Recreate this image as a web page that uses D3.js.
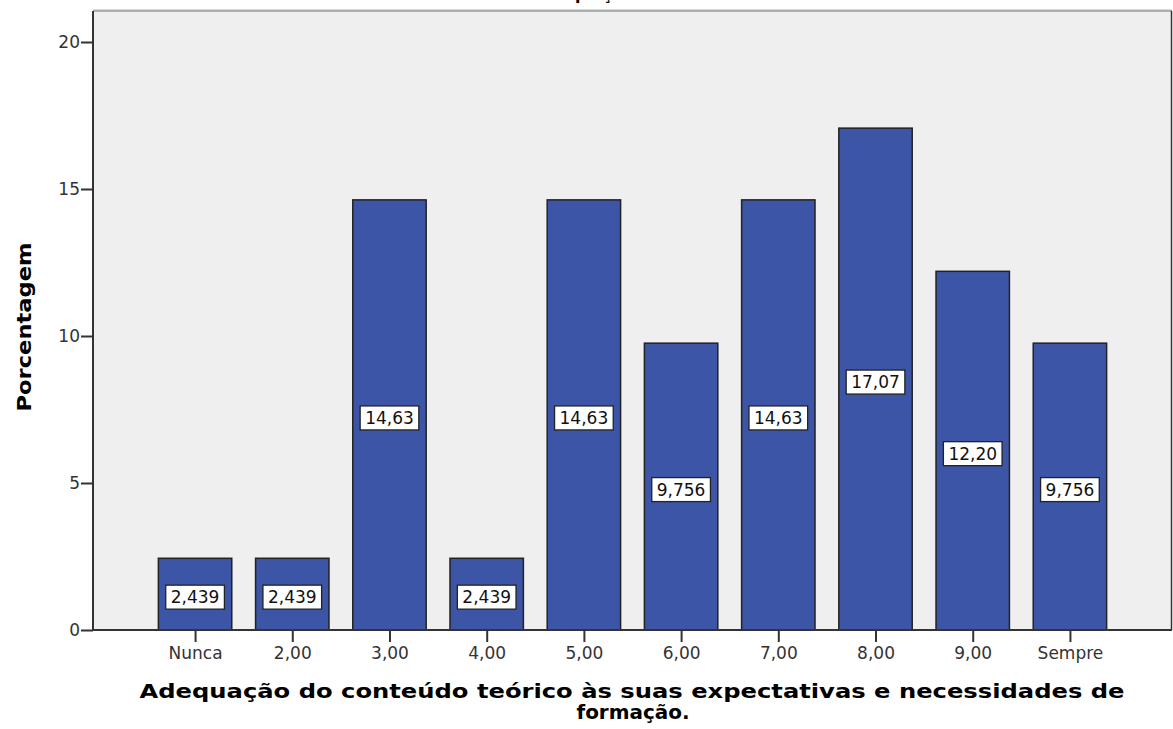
<!DOCTYPE html>
<html><head><meta charset="utf-8">
<script src="https://cdn.jsdelivr.net/npm/d3@7"></script>
<style>body{margin:0;background:#fff}svg{display:block}</style>
</head><body>
<svg id="c" width="1173" height="729"></svg>
<script>
const categories = ["Nunca","2,00","3,00","4,00","5,00","6,00","7,00","8,00","9,00","Sempre"];
const values = [2.439,2.439,14.63,2.439,14.63,9.756,14.63,17.07,12.20,9.756];
const valueLabels = ["2,439","2,439","14,63","2,439","14,63","9,756","14,63","17,07","12,20","9,756"];
const yTicks = [0,5,10,15,20];
const chartTitle = "Adequação";
const yTitle = "Porcentagem";
const xTitle = ["Adequação do conteúdo teórico às suas expectativas e necessidades de","formação."];

const svg = d3.select("#c");
const L=93, R=1172, T=11, B=630;
const x = d3.scalePoint().domain(categories).range([L,R]).padding(1.05);
const y = d3.scaleLinear().domain([0,20]).range([B,42]);
const bw = x.step()*0.755;

// title (cut off at top edge, as in reference)
svg.append("text").attr("x",584).attr("y",0).attr("text-anchor","middle")
  .attr("font-family","DejaVu Sans").attr("font-weight","bold").attr("font-size",16).text(chartTitle);

svg.append("rect").attr("x",L).attr("y",T).attr("width",R-L).attr("height",B-T).attr("fill","#efefef");
svg.append("line").attr("x1",L).attr("x2",R).attr("y1",T-1).attr("y2",T-1).attr("stroke","#b8b8b8").attr("stroke-width",1);
svg.append("line").attr("x1",L).attr("x2",R).attr("y1",T).attr("y2",T).attr("stroke","#777").attr("stroke-width",1);
svg.append("line").attr("x1",R-0.5).attr("x2",R-0.5).attr("y1",T).attr("y2",B).attr("stroke","#333").attr("stroke-width",1.5);

// bars
svg.append("g").selectAll("rect").data(values).join("rect")
  .attr("x",(d,i)=>x(categories[i])-bw/2).attr("width",bw)
  .attr("y",d=>y(d)).attr("height",d=>B-y(d))
  .attr("fill","#3c55a6").attr("stroke","#222").attr("stroke-width",1.5);

// value labels
const lg = svg.append("g").attr("font-family","DejaVu Sans").attr("font-size",17);
values.forEach((v,i)=>{
  const cx = x(categories[i]), cy = y(v/2)+3;
  const t = lg.append("text").attr("x",cx).attr("y",cy+6).attr("text-anchor","middle").attr("fill","#111").text(valueLabels[i]);
  const w = t.node().getComputedTextLength();
  lg.insert("rect","text").attr("x",cx-w/2-5).attr("y",cy-12).attr("width",w+10).attr("height",24)
    .attr("fill","#fff").attr("stroke","#222").attr("stroke-width",1.3);
});

// axes
const ya = svg.append("g").attr("transform",`translate(${L},0)`)
  .call(d3.axisLeft(y).tickValues(yTicks).tickFormat(d=>d).tickSize(12).tickSizeOuter(0));
ya.select(".domain").attr("d",`M0,${T}V${B}`).attr("stroke","#333").attr("stroke-width",2);
ya.selectAll(".tick line").attr("stroke","#333").attr("stroke-width",2);
ya.selectAll(".tick text").attr("font-family","DejaVu Sans").attr("font-size",17).attr("fill","#333").attr("x",-13);

const xa = svg.append("g").attr("transform",`translate(0,${B})`)
  .call(d3.axisBottom(x).tickSize(12).tickSizeOuter(0));
xa.select(".domain").attr("d",`M${L},0H${R}`).attr("stroke","#333").attr("stroke-width",2);
xa.selectAll(".tick line").attr("stroke","#333").attr("stroke-width",2);
xa.selectAll(".tick text").attr("font-family","DejaVu Sans").attr("font-size",17).attr("fill","#333").attr("y",17);

// axis titles
svg.append("text").attr("transform","translate(31,327) rotate(-90)").attr("text-anchor","middle")
  .attr("font-family","DejaVu Sans").attr("font-weight","bold").attr("font-size",20)
  .attr("textLength",169).attr("lengthAdjust","spacingAndGlyphs").text(yTitle);
svg.append("text").attr("x",632).attr("y",698).attr("text-anchor","middle")
  .attr("font-family","DejaVu Sans").attr("font-weight","bold").attr("font-size",20)
  .attr("textLength",985).attr("lengthAdjust","spacingAndGlyphs").text(xTitle[0]);
svg.append("text").attr("x",633).attr("y",719).attr("text-anchor","middle")
  .attr("font-family","DejaVu Sans").attr("font-weight","bold").attr("font-size",20)
  .attr("textLength",113).attr("lengthAdjust","spacingAndGlyphs").text(xTitle[1]);
</script>
</body></html>
